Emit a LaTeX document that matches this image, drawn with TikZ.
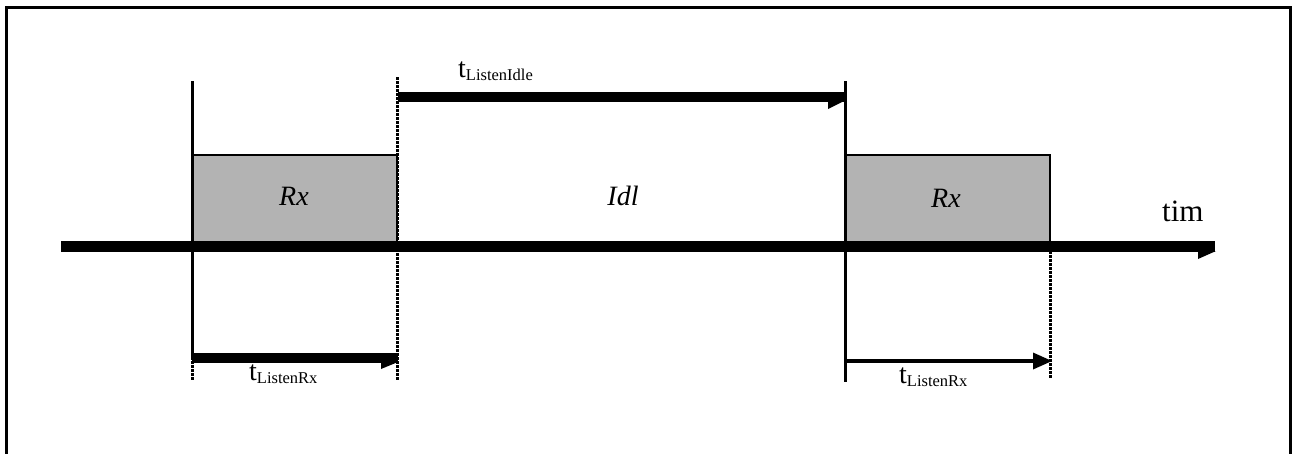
\documentclass[tikz,border=0pt]{standalone}
\usepackage{fontspec}
\setmainfont{Liberation Serif}
\begin{document}
\begin{tikzpicture}[x=1pt,y=-1pt,
  frame/.style={line width=3pt},
  axisline/.style={line width=11pt},
  fatarrow/.style={line width=10pt},
  thinarrow/.style={line width=4pt},
  vsolid/.style={line width=3pt},
  vdot/.style={line width=3pt, dash pattern=on 2.5pt off 1.5pt},
  rxbox/.style={draw, line width=1.5pt, fill={rgb,255:red,179;green,179;blue,179}, inner sep=0pt, minimum width=205pt, minimum height=91pt},
  lab/.style={font=\fontsize{28}{28}\selectfont\itshape, anchor=base},
  tlab/.style={font=\fontsize{28}{28}\selectfont, anchor=base west, inner sep=0pt},
  sub/.style={}
]
\useasboundingbox (0,0) rectangle (1293,453);
\clip (0,0) rectangle (1293,453);
% frame
\coordinate (f1) at (6,480);
\coordinate (f2) at (6,7);
\coordinate (f3) at (1290,7);
\coordinate (f4) at (1290,480);
\draw[frame] (f1) -- (f2) -- (f3) -- (f4);
% boxes
\node[rxbox] (rx1) at (294.5,200.5) {};
\node[rxbox] (rx2) at (947.5,200.5) {};
% timeline
\coordinate (t0) at (61,246.5);
\coordinate (t1) at (1215,246.5);
\draw[axisline] (t0) -- (t1);
\fill (1198,252) -- (1216,251) -- (1198,259) -- cycle;
% verticals
\coordinate (v1a) at (192,81);
\coordinate (v1b) at (192,357);
\coordinate (v1c) at (192,381);
\draw[vsolid] (v1a) -- (v1b);
\draw[vdot] (v1b) -- (v1c);
\coordinate (v2a) at (397,77);
\coordinate (v2b) at (397,381);
\draw[vdot] (v2a) -- (v2b);
\coordinate (v3a) at (845,81);
\coordinate (v3b) at (845,382);
\draw[vsolid] (v3a) -- (v3b);
\coordinate (v4a) at (1050,247);
\coordinate (v4b) at (1050,379);
\draw[vdot] (v4a) -- (v4b);
% tListenIdle arrow
\coordinate (ia) at (398,97);
\coordinate (ib) at (844,97);
\draw[fatarrow] (ia) -- (ib);
\fill (828,102) -- (844,101) -- (828,109) -- cycle;
% tListenRx left arrow
\coordinate (la) at (192,358);
\coordinate (lb) at (398,358);
\draw[fatarrow] (la) -- (lb);
\fill (381,363) -- (398,362) -- (381,369) -- cycle;
% tListenRx right arrow
\coordinate (ra) at (845,361);
\coordinate (rb) at (1034,361);
\draw[thinarrow] (ra) -- (rb);
\fill (1033,352.5) -- (1052,361) -- (1033,369.5) -- cycle;
% labels
\node[lab] (l1) at (294,205) {Rx};
\node[lab] (l2) at (623,205) {Idl};
\node[lab] (l3) at (946,207) {Rx};
\node[tlab, font=\fontsize{31}{31}\selectfont] (l4) at (1162,221) {tim};
\node[tlab] (l5) at (458,77) {t\raisebox{-3pt}{\fontsize{16.5}{16.5}\selectfont ListenIdle}};
\node[tlab] (l6) at (249,380) {t\raisebox{-3pt}{\fontsize{16.5}{16.5}\selectfont ListenRx}};
\node[tlab] (l7) at (899,383) {t\raisebox{-3pt}{\fontsize{16.5}{16.5}\selectfont ListenRx}};
\end{tikzpicture}
\end{document}
